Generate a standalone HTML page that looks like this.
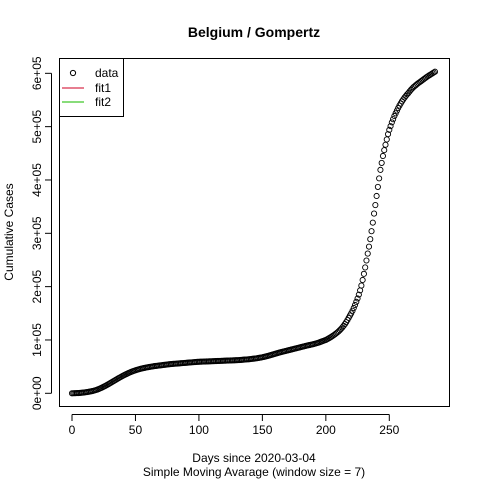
<!DOCTYPE html>
<html><head><meta charset="utf-8"><style>
body{margin:0;background:#fff}
svg text{font-family:"Liberation Sans",Arial,sans-serif;fill:#000}
</style></head><body>
<svg id="chart" width="480" height="480" viewBox="0 0 480 480" xmlns="http://www.w3.org/2000/svg">
<rect width="480" height="480" fill="#fff"/>
<text x="254" y="37" text-anchor="middle" font-size="14" font-weight="bold">Belgium / Gompertz</text>
<text x="254" y="462" text-anchor="middle" font-size="12">Days since 2020-03-04</text>
<text x="254" y="476" text-anchor="middle" font-size="12">Simple Moving Avarage (window size = 7)</text>
<text transform="translate(13,232) rotate(-90)" text-anchor="middle" font-size="12">Cumulative Cases</text>
<g id="xaxis"></g>
<g id="yaxis"></g>
<g id="points"></g>
<rect x="59.5" y="58.5" width="390" height="348" fill="none" stroke="#000" stroke-width="1"/>
<g>
<rect x="59.5" y="58.5" width="64" height="58" fill="#fff" stroke="#000"/>
<circle cx="73" cy="73" r="2.6" fill="none" stroke="#000"/>
<text x="95" y="77" font-size="12">data</text>
<line x1="62" y1="88" x2="84" y2="88" stroke="#DF536B" stroke-width="1.5"/>
<text x="95" y="92" font-size="12">fit1</text>
<line x1="62" y1="102" x2="84" y2="102" stroke="#61D04F" stroke-width="1.5"/>
<text x="95" y="106" font-size="12">fit2</text>
</g>
</svg>
<script>
const xTicks=[0,50,100,150,200,250];
const yTicks=[0,100000,200000,300000,400000,500000,600000];
const yTickLabels=["0e+00","1e+05","2e+05","3e+05","4e+05","5e+05","6e+05"];
const casesK=[0,0.1,0.2,0.3,0.4,0.5,0.7,0.9,1.1,1.4,1.7,2,2.4,2.8,3.2,3.7,4.2,4.8,5.5,6.2,
7,8,9,10,11.2,12.4,13.6,14.9,16.2,17.6,19,20.4,21.8,23.2,24.6,26,27.4,28.8,30.1,31.4,
32.7,33.9,35.1,36.3,37.4,38.5,39.5,40.5,41.4,42.3,43.1,43.9,44.6,45.3,45.9,46.5,47.1,47.6,48.1,48.6,
49,49.4,49.8,50.2,50.6,51,51.3,51.6,51.9,52.2,52.5,52.8,53.1,53.4,53.7,54,54.3,54.6,54.8,55,
55.2,55.4,55.6,55.8,56,56.2,56.4,56.6,56.8,57,57.2,57.4,57.6,57.8,58,58.2,58.4,58.6,58.8,59,
59.1,59.2,59.3,59.4,59.5,59.6,59.7,59.8,59.9,60,60.1,60.2,60.3,60.4,60.5,60.6,60.7,60.8,60.9,61,
61.1,61.2,61.3,61.4,61.5,61.6,61.7,61.8,61.9,62,62.1,62.2,62.4,62.6,62.8,63,63.2,63.4,63.6,63.8,
64,64.3,64.6,64.9,65.2,65.5,65.9,66.3,66.7,67.1,67.6,68.1,68.7,69.3,69.9,70.5,71.2,71.9,72.6,73.3,
74,74.7,75.4,76.1,76.8,77.4,78,78.6,79.2,79.8,80.4,81,81.6,82.2,82.8,83.4,84,84.6,85.2,85.8,
86.4,87,87.6,88.2,88.8,89.4,90,90.5,91,91.5,
92,92.7,93.4,94.1,94.8,95.6,96.5,97.4,98.3,99.2,
100,101.3,102.6,104,105.4,107,108.6,110.3,112.1,114,
116,118.3,120.8,123.5,126.5,129.8,133.4,137.3,141.5,145.8,
150,154.8,160,165.6,171.5,177.8,185,193,202,212.5,
224,236,249,262,275,289,304,320,337,353,
370,387,403,419,432,445,456,466,476,486,
494,501,508,514,520,525,530,535,539.5,543.5,
547.5,551,554.5,557.5,560.5,563,566,569,571.5,574,
576,578,580,581.8,583.5,585.3,587,588.8,590.5,592.3,
594,595.5,597,598.5,600,601.5,603];
const NS="http://www.w3.org/2000/svg";
function xs(d){return 72+d*(317.3/250);}
function ys(v){return 393.3-v*(53.33/100000);}
const xa=document.getElementById('xaxis');
let bl=document.createElementNS(NS,'line');


bl.setAttribute('x1',xs(xTicks[0]));bl.setAttribute('x2',xs(xTicks[xTicks.length-1]));
bl.setAttribute('y1',414.5);bl.setAttribute('y2',414.5);bl.setAttribute('stroke','#000');xa.appendChild(bl);
xTicks.forEach(t=>{
 const l=document.createElementNS(NS,'line');
 
 
 l.setAttribute('x1',xs(t));l.setAttribute('x2',xs(t));l.setAttribute('y1',414.5);l.setAttribute('y2',421);l.setAttribute('stroke','#000');xa.appendChild(l);
 const tx=document.createElementNS(NS,'text');
 
 
 tx.setAttribute('x',xs(t));tx.setAttribute('y',434);tx.setAttribute('text-anchor','middle');tx.setAttribute('font-size','12');tx.textContent=t;xa.appendChild(tx);
});
const ya=document.getElementById('yaxis');
let yl=document.createElementNS(NS,'line');


yl.setAttribute('x1',51.5);yl.setAttribute('x2',51.5);
yl.setAttribute('y1',ys(yTicks[0]));yl.setAttribute('y2',ys(yTicks[yTicks.length-1]));yl.setAttribute('stroke','#000');ya.appendChild(yl);
yTicks.forEach((t,i)=>{
 const l=document.createElementNS(NS,'line');
 
 
 l.setAttribute('x1',45);l.setAttribute('x2',51.5);l.setAttribute('y1',ys(t));l.setAttribute('y2',ys(t));l.setAttribute('stroke','#000');ya.appendChild(l);
 const tx=document.createElementNS(NS,'text');
 
 
 tx.setAttribute('transform','translate(41,'+ys(t)+') rotate(-90)');tx.setAttribute('text-anchor','middle');tx.setAttribute('font-size','12');tx.textContent=yTickLabels[i];ya.appendChild(tx);
});
const pg=document.getElementById('points');
casesK.forEach((v,d)=>{
 const c=document.createElementNS(NS,'circle');
 
 
 c.setAttribute('cx',xs(d));c.setAttribute('cy',ys(v*1000));c.setAttribute('r',2.6);
 c.setAttribute('fill','none');c.setAttribute('stroke','#000');c.setAttribute('stroke-width','0.9');
 pg.appendChild(c);
});
</script>
</body></html>
